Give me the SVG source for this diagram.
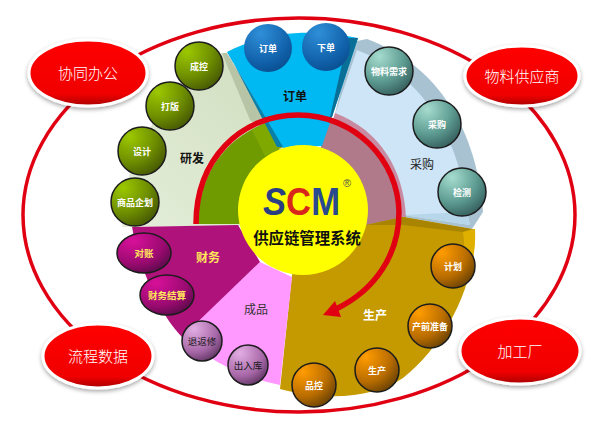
<svg xmlns="http://www.w3.org/2000/svg" width="607" height="424" viewBox="0 0 607 424">
<defs>
<radialGradient id="gGreen" cx="0.25" cy="0.2" r="0.95"><stop offset="0" stop-color="#9cc800"/><stop offset="0.55" stop-color="#6f8f00"/><stop offset="1" stop-color="#3f4f05"/></radialGradient>
<radialGradient id="gBlue" cx="0.35" cy="0.2" r="0.9"><stop offset="0" stop-color="#2f8fd8"/><stop offset="0.7" stop-color="#0f5fa8"/><stop offset="1" stop-color="#0a4a8a"/></radialGradient>
<radialGradient id="gTeal" cx="0.3" cy="0.2" r="0.95"><stop offset="0" stop-color="#a6dccf"/><stop offset="0.55" stop-color="#5c9a90"/><stop offset="1" stop-color="#2c4f50"/></radialGradient>
<radialGradient id="gOrange" cx="0.25" cy="0.2" r="0.95"><stop offset="0" stop-color="#ff9c00"/><stop offset="0.6" stop-color="#b86c00"/><stop offset="1" stop-color="#5a3a05"/></radialGradient>
<radialGradient id="gViolet" cx="0.3" cy="0.2" r="0.95"><stop offset="0" stop-color="#e3aee3"/><stop offset="0.6" stop-color="#a868a8"/><stop offset="1" stop-color="#4c2850"/></radialGradient>
<radialGradient id="gMag" cx="0.3" cy="0.2" r="0.95"><stop offset="0" stop-color="#d8109a"/><stop offset="0.6" stop-color="#9a0a70"/><stop offset="1" stop-color="#4a0a40"/></radialGradient>
<linearGradient id="gRed" x1="0" y1="0" x2="0" y2="1"><stop offset="0" stop-color="#ff0000"/><stop offset="0.82" stop-color="#f00000"/><stop offset="1" stop-color="#a80000"/></linearGradient>
<linearGradient id="gPale" x1="0" y1="1" x2="1" y2="0"><stop offset="0" stop-color="#e4eeda"/><stop offset="1" stop-color="#cfdcbc"/></linearGradient>
<filter id="soft" x="-15%" y="-15%" width="130%" height="140%"><feDropShadow dx="0" dy="2" stdDeviation="2" flood-color="#000" flood-opacity="0.35"/></filter>
</defs>
<style>
text{font-family:"Noto Sans CJK SC","Liberation Sans",sans-serif;text-anchor:middle}
.n{stroke:#1c1c1c;stroke-width:1.5}
.w{fill:#fff;font-size:9px;font-weight:700}
.k{fill:#1a1a1a;font-size:9.5px}
.y{fill:#ffe65a;font-size:9.5px;font-weight:700}
.h{font-size:12px;font-weight:700}
.r{font-size:12px;font-weight:400}
.c{fill:url(#gRed);stroke:#fff;stroke-width:3;filter:url(#soft)}
.ct{fill:#fff;font-size:15px;font-weight:300}
.logo{font-family:"Liberation Sans",sans-serif;font-size:38px;font-weight:700;text-anchor:start}
</style>
<rect width="607" height="424" fill="#fff"/>
<g id="connectors">
<ellipse cx="299" cy="215" rx="276" ry="197" fill="none" stroke="#e00012" stroke-width="3.5"/>
</g>
<g id="sectors">
<path d="M222,53 C190,72 160,105 138,150 C126,178 122,205 122,227 L240,226 L304,210 L283,147 Z" fill="url(#gPale)"/>
<path d="M222,53 L227,53 L283,147 L272,134 L250,120 Z" fill="#b7c4a6"/>
<path d="M268,122 L304,210 L238,224 L198,224 C198,180 220,140 268,122 Z" fill="#6f9a00"/>
<path d="M252,130 L268,122 L283,147 L265,156 Z" fill="#7fa800"/>
<path d="M367,39 C430,62 476,120 483,212 L472,229 L403,217 L335,114 L352,42 Z" fill="#a8c2d2"/>
<path d="M357,50 C415,72 460,130 467,212 L470,225 L403,215 L335,114 Z" fill="#cde5f6"/>
<path d="M403,215 L467,212 L470,225 Z" fill="#b8d6ea"/>
<path d="M335,113 C380,130 404,170 406,218 L366,225 L304,210 Z" fill="#c88aa0"/>
<path d="M328,120 C372,130 396,170 400,218 L366,225 L304,210 Z" fill="#b07a8a"/>
<path d="M227,52 C265,32 310,28 358,38 L332,117 L322,146 L283,148 Z" fill="#00b8f2"/>
<path d="M227,52 L283,147 L277,147 L232,60 Z" fill="#0a7fa8"/>
<path d="M358,38 L348,38 L330,117 L332,117 Z" fill="#0a6f96"/>
<path d="M292,275 L304,210 L366,225 L403,217 L472,229 L475,229 C476,285 445,345 403,378 C375,397 330,402 280,389 Z" fill="#c49a00"/>
<path d="M366,225 L403,217 L472,229 L463,232 L403,225 Z" fill="#a88400"/>
<path d="M463,232 L475,229 C476,250 472,268 466,285 L457,288 C463,268 466,250 463,232 Z" fill="#e0b000"/>
<path d="M260,262 L292,277 L280,385 C245,378 210,362 182,336 Z" fill="#ff99ff"/>
<path d="M132,227 L238,225 L260,262 L182,337 C160,315 140,270 132,227 Z" fill="#b0127c"/>
</g>
<g id="center">
<circle cx="303" cy="210" r="65" fill="#ffff00"/>
<text class="logo" x="263" y="215" textLength="77" lengthAdjust="spacingAndGlyphs"><tspan fill="#2a3f82" font-style="italic">S</tspan><tspan fill="#d8261c">C</tspan><tspan fill="#2a4a90">M</tspan></text>
<text x="347" y="187" style="font-family:'Liberation Sans',sans-serif;font-size:11px;fill:#555">®</text>
<text x="307" y="244" style="font-size:15.4px;font-weight:700;fill:#111">供应链管理系统</text>
</g>
<g id="arrow">
<path d="M196,224 C196,160 240,115 298,115 C355,115 398,160 399,212 C399,255 375,290 336,309" fill="none" stroke="#e00012" stroke-width="5.5"/>
<path d="M323,315 L335,301 L338,309 L341,317 Z" fill="#e00012"/>
</g>
<g id="labels">
<text class="h" x="295" y="101" fill="#111">订单</text>
<text class="h" x="192" y="163" fill="#111">研发</text>
<text class="r" x="422" y="169" fill="#222">采购</text>
<text class="h" x="208" y="262" fill="#ffe65a">财务</text>
<text class="r" x="256" y="314" fill="#333">成品</text>
<text class="h" x="375" y="320" fill="#fff">生产</text>
</g>
<g id="n-chengkong"><circle class="n" cx="199" cy="66" r="24" fill="url(#gGreen)"/><text class="w" x="199" y="70">成控</text></g>
<g id="n-daban"><circle class="n" cx="170" cy="106" r="24" fill="url(#gGreen)"/><text class="w" x="170" y="110">打版</text></g>
<g id="n-sheji"><circle class="n" cx="142" cy="151" r="24" fill="url(#gGreen)"/><text class="w" x="142" y="155">设计</text></g>
<g id="n-qihua"><circle class="n" cx="135" cy="202" r="24" fill="url(#gGreen)"/><text class="w" x="135" y="206">商品企划</text></g>
<g id="n-dingdan"><circle cx="268" cy="48" r="24" fill="url(#gBlue)"/><text class="w" x="268" y="52">订单</text></g>
<g id="n-xiadan"><circle cx="326" cy="47" r="24" fill="url(#gBlue)"/><text class="w" x="326" y="51">下单</text></g>
<g id="n-wuliao"><circle class="n" cx="389" cy="71" r="24" fill="url(#gTeal)"/><text class="w" x="389" y="75">物料需求</text></g>
<g id="n-caigou"><circle class="n" cx="437" cy="124" r="24" fill="url(#gTeal)"/><text class="w" x="437" y="128">采购</text></g>
<g id="n-jiance"><circle class="n" cx="462" cy="192" r="24" fill="url(#gTeal)"/><text class="w" x="462" y="196">检测</text></g>
<g id="n-jihua"><circle class="n" cx="453" cy="266" r="22" fill="url(#gOrange)"/><text class="w" x="453" y="270">计划</text></g>
<g id="n-chanqian"><circle class="n" cx="430" cy="326" r="22" fill="url(#gOrange)"/><text class="w" x="430" y="330">产前准备</text></g>
<g id="n-shengchan"><circle class="n" cx="377" cy="370" r="22" fill="url(#gOrange)"/><text class="w" x="377" y="374">生产</text></g>
<g id="n-pinkong"><circle class="n" cx="314" cy="385" r="22" fill="url(#gOrange)"/><text class="w" x="314" y="389">品控</text></g>
<g id="n-churuku"><circle class="n" cx="248" cy="365" r="20" fill="url(#gViolet)"/><text class="k" x="248" y="369">出入库</text></g>
<g id="n-tuifanxiu"><circle class="n" cx="202" cy="341" r="20" fill="url(#gViolet)"/><text class="k" x="202" y="345">退返修</text></g>
<g id="n-jiesuan"><ellipse class="n" cx="167" cy="295" rx="27" ry="20" fill="url(#gMag)"/><text class="y" x="167" y="299">财务结算</text></g>
<g id="n-duizhang"><ellipse class="n" cx="144" cy="253" rx="27" ry="20" fill="url(#gMag)"/><text class="y" x="144" y="257">对账</text></g>
<g id="c-xietong"><ellipse class="c" cx="88" cy="73" rx="59" ry="33"/><text class="ct" x="88" y="79">协同办公</text></g>
<g id="c-wuliao"><ellipse class="c" cx="522" cy="76" rx="57" ry="30"/><text class="ct" x="522" y="82">物料供应商</text></g>
<g id="c-liucheng"><ellipse class="c" cx="98" cy="356" rx="55" ry="32"/><text class="ct" x="98" y="362">流程数据</text></g>
<g id="c-jiagong"><ellipse class="c" cx="520" cy="351" rx="60" ry="33"/><text class="ct" x="520" y="357">加工厂</text></g>
</svg>
